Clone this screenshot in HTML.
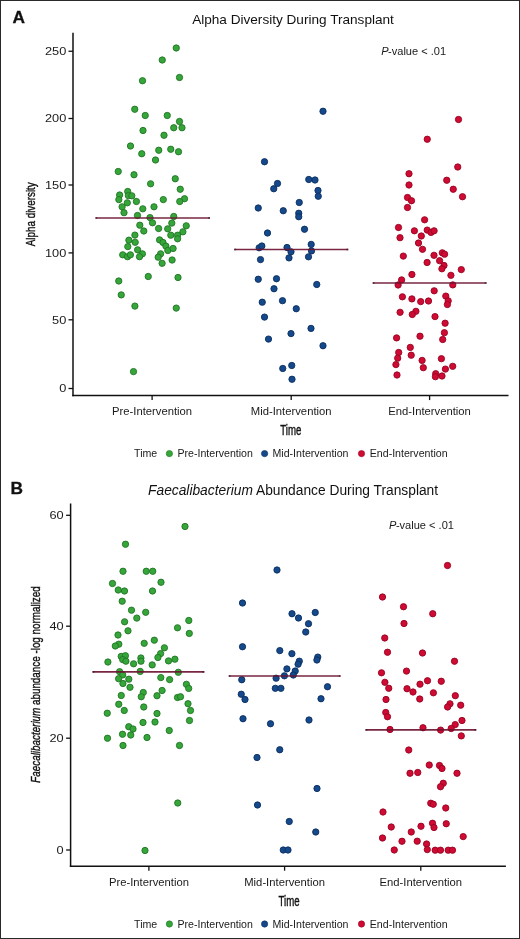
<!DOCTYPE html>
<html><head><meta charset="utf-8"><style>
html,body{margin:0;padding:0;background:#fff;}
body{width:520px;height:939px;overflow:hidden;font-family:"Liberation Sans",sans-serif;}
svg{display:block;will-change:transform;}
</style></head><body>
<svg width="520" height="939" viewBox="0 0 520 939" font-family="'Liberation Sans', sans-serif">
<rect x="0" y="0" width="520" height="939" fill="#fff"/>
<line x1="73" y1="32.8" x2="73" y2="396.35" stroke="#111" stroke-width="1.5"/>
<line x1="72.25" y1="395.6" x2="508.5" y2="395.6" stroke="#111" stroke-width="1.5"/>
<line x1="68.5" y1="51.25" x2="73" y2="51.25" stroke="#111" stroke-width="1.3"/>
<text transform="translate(66.3,55.15) scale(1.12,1)" text-anchor="end" font-size="11.4" fill="#1a1a1a">250</text>
<line x1="68.5" y1="118.5" x2="73" y2="118.5" stroke="#111" stroke-width="1.3"/>
<text transform="translate(66.3,122.4) scale(1.12,1)" text-anchor="end" font-size="11.4" fill="#1a1a1a">200</text>
<line x1="68.5" y1="185.0" x2="73" y2="185.0" stroke="#111" stroke-width="1.3"/>
<text transform="translate(66.3,188.9) scale(1.12,1)" text-anchor="end" font-size="11.4" fill="#1a1a1a">150</text>
<line x1="68.5" y1="252.9" x2="73" y2="252.9" stroke="#111" stroke-width="1.3"/>
<text transform="translate(66.3,256.8) scale(1.12,1)" text-anchor="end" font-size="11.4" fill="#1a1a1a">100</text>
<line x1="68.5" y1="319.8" x2="73" y2="319.8" stroke="#111" stroke-width="1.3"/>
<text transform="translate(66.3,323.7) scale(1.12,1)" text-anchor="end" font-size="11.4" fill="#1a1a1a">50</text>
<line x1="68.5" y1="388.5" x2="73" y2="388.5" stroke="#111" stroke-width="1.3"/>
<text transform="translate(66.3,392.4) scale(1.12,1)" text-anchor="end" font-size="11.4" fill="#1a1a1a">0</text>
<line x1="152.1" y1="395.6" x2="152.1" y2="400.1" stroke="#111" stroke-width="1.3"/>
<text x="152.1" y="414.6" text-anchor="middle" font-size="11.25" fill="#1a1a1a">Pre-Intervention</text>
<line x1="291.2" y1="395.6" x2="291.2" y2="400.1" stroke="#111" stroke-width="1.3"/>
<text x="291.2" y="414.6" text-anchor="middle" font-size="11.25" fill="#1a1a1a">Mid-Intervention</text>
<line x1="429.6" y1="395.6" x2="429.6" y2="400.1" stroke="#111" stroke-width="1.3"/>
<text x="429.6" y="414.6" text-anchor="middle" font-size="11.25" fill="#1a1a1a">End-Intervention</text>
<text transform="translate(290.75,435.3) scale(0.70,1)" text-anchor="middle" font-size="13.8" fill="#111" stroke="#111" stroke-width="0.4">Time</text>
<text transform="translate(35.3,214.25) rotate(-90) scale(0.735,1)" text-anchor="middle" font-size="13.4" fill="#111" stroke="#111" stroke-width="0.4">Alpha diversity</text>
<text x="293" y="24" text-anchor="middle" font-size="13.6" fill="#111">Alpha Diversity During Transplant</text>
<text x="12.5" y="23.4" font-size="17.3" font-weight="bold" fill="#111" stroke="#111" stroke-width="0.3">A</text>
<g fill="#37a63a" stroke="#1f7524" stroke-width="0.9"><circle cx="176.25" cy="48.00" r="3.15"/><circle cx="162.25" cy="60.00" r="3.15"/><circle cx="179.50" cy="77.50" r="3.15"/><circle cx="142.50" cy="80.75" r="3.15"/><circle cx="134.75" cy="109.25" r="3.15"/><circle cx="145.25" cy="115.50" r="3.15"/><circle cx="167.25" cy="115.50" r="3.15"/><circle cx="179.50" cy="121.50" r="3.15"/><circle cx="173.75" cy="127.75" r="3.15"/><circle cx="182.00" cy="127.75" r="3.15"/><circle cx="143.00" cy="130.50" r="3.15"/><circle cx="164.00" cy="135.25" r="3.15"/><circle cx="130.50" cy="146.00" r="3.15"/><circle cx="158.75" cy="150.25" r="3.15"/><circle cx="170.75" cy="149.25" r="3.15"/><circle cx="178.50" cy="151.75" r="3.15"/><circle cx="141.75" cy="153.75" r="3.15"/><circle cx="155.50" cy="160.00" r="3.15"/><circle cx="118.25" cy="171.50" r="3.15"/><circle cx="134.00" cy="174.75" r="3.15"/><circle cx="175.25" cy="178.75" r="3.15"/><circle cx="150.60" cy="183.80" r="3.15"/><circle cx="180.25" cy="189.25" r="3.15"/><circle cx="119.65" cy="195.00" r="3.15"/><circle cx="118.85" cy="199.60" r="3.15"/><circle cx="127.70" cy="191.50" r="3.15"/><circle cx="128.40" cy="195.60" r="3.15"/><circle cx="131.80" cy="195.80" r="3.15"/><circle cx="127.30" cy="202.80" r="3.15"/><circle cx="136.40" cy="201.50" r="3.15"/><circle cx="122.10" cy="206.80" r="3.15"/><circle cx="124.00" cy="212.70" r="3.15"/><circle cx="142.80" cy="208.80" r="3.15"/><circle cx="154.00" cy="206.80" r="3.15"/><circle cx="163.30" cy="199.60" r="3.15"/><circle cx="184.50" cy="198.75" r="3.15"/><circle cx="179.75" cy="201.50" r="3.15"/><circle cx="173.75" cy="216.50" r="3.15"/><circle cx="137.50" cy="215.50" r="3.15"/><circle cx="150.00" cy="217.60" r="3.15"/><circle cx="152.50" cy="222.80" r="3.15"/><circle cx="139.80" cy="225.20" r="3.15"/><circle cx="158.60" cy="228.50" r="3.15"/><circle cx="143.80" cy="231.00" r="3.15"/><circle cx="134.90" cy="235.10" r="3.15"/><circle cx="128.90" cy="240.20" r="3.15"/><circle cx="135.20" cy="242.30" r="3.15"/><circle cx="127.80" cy="246.60" r="3.15"/><circle cx="137.60" cy="249.80" r="3.15"/><circle cx="142.40" cy="253.80" r="3.15"/><circle cx="139.50" cy="256.70" r="3.15"/><circle cx="122.70" cy="254.80" r="3.15"/><circle cx="127.50" cy="256.70" r="3.15"/><circle cx="130.40" cy="254.80" r="3.15"/><circle cx="171.80" cy="223.10" r="3.15"/><circle cx="167.70" cy="228.80" r="3.15"/><circle cx="186.25" cy="225.80" r="3.15"/><circle cx="182.90" cy="231.80" r="3.15"/><circle cx="170.80" cy="235.20" r="3.15"/><circle cx="177.60" cy="235.20" r="3.15"/><circle cx="177.60" cy="238.80" r="3.15"/><circle cx="159.60" cy="239.90" r="3.15"/><circle cx="163.00" cy="242.50" r="3.15"/><circle cx="165.90" cy="246.10" r="3.15"/><circle cx="167.80" cy="250.50" r="3.15"/><circle cx="173.10" cy="248.50" r="3.15"/><circle cx="160.60" cy="253.80" r="3.15"/><circle cx="158.20" cy="257.20" r="3.15"/><circle cx="172.10" cy="260.00" r="3.15"/><circle cx="162.10" cy="263.30" r="3.15"/><circle cx="148.25" cy="276.50" r="3.15"/><circle cx="178.00" cy="277.50" r="3.15"/><circle cx="118.75" cy="281.00" r="3.15"/><circle cx="121.25" cy="294.90" r="3.15"/><circle cx="134.90" cy="306.10" r="3.15"/><circle cx="176.25" cy="308.10" r="3.15"/><circle cx="133.50" cy="371.60" r="3.15"/></g>
<g fill="#16498a" stroke="#0a2f62" stroke-width="0.9"><circle cx="323.00" cy="111.25" r="3.15"/><circle cx="264.50" cy="161.75" r="3.15"/><circle cx="277.50" cy="183.50" r="3.15"/><circle cx="273.75" cy="188.75" r="3.15"/><circle cx="308.75" cy="179.50" r="3.15"/><circle cx="315.00" cy="180.00" r="3.15"/><circle cx="318.00" cy="190.50" r="3.15"/><circle cx="318.25" cy="196.25" r="3.15"/><circle cx="299.25" cy="202.50" r="3.15"/><circle cx="258.25" cy="208.00" r="3.15"/><circle cx="283.25" cy="210.75" r="3.15"/><circle cx="298.75" cy="213.25" r="3.15"/><circle cx="298.75" cy="216.75" r="3.15"/><circle cx="304.50" cy="229.25" r="3.15"/><circle cx="267.50" cy="233.00" r="3.15"/><circle cx="259.15" cy="247.80" r="3.15"/><circle cx="261.85" cy="246.00" r="3.15"/><circle cx="260.50" cy="259.60" r="3.15"/><circle cx="287.00" cy="247.50" r="3.15"/><circle cx="291.00" cy="251.80" r="3.15"/><circle cx="289.00" cy="257.90" r="3.15"/><circle cx="311.20" cy="244.40" r="3.15"/><circle cx="311.50" cy="250.90" r="3.15"/><circle cx="308.50" cy="256.80" r="3.15"/><circle cx="258.25" cy="279.25" r="3.15"/><circle cx="276.50" cy="278.75" r="3.15"/><circle cx="274.00" cy="288.75" r="3.15"/><circle cx="316.75" cy="284.50" r="3.15"/><circle cx="262.25" cy="302.20" r="3.15"/><circle cx="282.50" cy="300.70" r="3.15"/><circle cx="296.25" cy="308.75" r="3.15"/><circle cx="264.50" cy="317.10" r="3.15"/><circle cx="311.00" cy="328.40" r="3.15"/><circle cx="291.00" cy="333.60" r="3.15"/><circle cx="268.50" cy="339.10" r="3.15"/><circle cx="323.00" cy="345.75" r="3.15"/><circle cx="282.75" cy="368.50" r="3.15"/><circle cx="291.75" cy="365.50" r="3.15"/><circle cx="292.00" cy="379.25" r="3.15"/></g>
<g fill="#cf0a33" stroke="#960422" stroke-width="0.9"><circle cx="458.50" cy="119.50" r="3.15"/><circle cx="427.25" cy="139.25" r="3.15"/><circle cx="457.75" cy="167.00" r="3.15"/><circle cx="409.00" cy="173.75" r="3.15"/><circle cx="446.75" cy="180.25" r="3.15"/><circle cx="409.00" cy="185.00" r="3.15"/><circle cx="453.25" cy="189.25" r="3.15"/><circle cx="462.50" cy="196.75" r="3.15"/><circle cx="407.50" cy="197.50" r="3.15"/><circle cx="411.50" cy="200.75" r="3.15"/><circle cx="407.50" cy="207.50" r="3.15"/><circle cx="424.60" cy="219.80" r="3.15"/><circle cx="398.50" cy="227.50" r="3.15"/><circle cx="414.40" cy="230.80" r="3.15"/><circle cx="427.20" cy="230.10" r="3.15"/><circle cx="431.00" cy="232.40" r="3.15"/><circle cx="434.10" cy="230.80" r="3.15"/><circle cx="421.30" cy="236.00" r="3.15"/><circle cx="400.00" cy="237.70" r="3.15"/><circle cx="418.50" cy="243.00" r="3.15"/><circle cx="422.50" cy="249.30" r="3.15"/><circle cx="403.30" cy="256.10" r="3.15"/><circle cx="434.00" cy="255.30" r="3.15"/><circle cx="442.30" cy="252.80" r="3.15"/><circle cx="444.60" cy="254.20" r="3.15"/><circle cx="439.60" cy="260.70" r="3.15"/><circle cx="427.10" cy="262.50" r="3.15"/><circle cx="444.00" cy="265.50" r="3.15"/><circle cx="441.90" cy="268.80" r="3.15"/><circle cx="461.30" cy="269.60" r="3.15"/><circle cx="411.90" cy="274.50" r="3.15"/><circle cx="450.90" cy="275.30" r="3.15"/><circle cx="401.60" cy="279.90" r="3.15"/><circle cx="398.10" cy="285.00" r="3.15"/><circle cx="452.80" cy="284.90" r="3.15"/><circle cx="434.20" cy="290.80" r="3.15"/><circle cx="402.40" cy="296.80" r="3.15"/><circle cx="411.90" cy="298.90" r="3.15"/><circle cx="420.70" cy="301.60" r="3.15"/><circle cx="428.50" cy="301.00" r="3.15"/><circle cx="445.80" cy="296.10" r="3.15"/><circle cx="448.20" cy="300.80" r="3.15"/><circle cx="447.40" cy="304.50" r="3.15"/><circle cx="400.10" cy="312.30" r="3.15"/><circle cx="415.90" cy="311.30" r="3.15"/><circle cx="412.30" cy="314.50" r="3.15"/><circle cx="435.00" cy="316.60" r="3.15"/><circle cx="445.10" cy="323.20" r="3.15"/><circle cx="444.40" cy="332.70" r="3.15"/><circle cx="442.70" cy="339.50" r="3.15"/><circle cx="396.60" cy="337.90" r="3.15"/><circle cx="420.00" cy="336.20" r="3.15"/><circle cx="410.30" cy="347.40" r="3.15"/><circle cx="398.70" cy="352.50" r="3.15"/><circle cx="411.20" cy="355.20" r="3.15"/><circle cx="397.70" cy="358.20" r="3.15"/><circle cx="395.90" cy="364.60" r="3.15"/><circle cx="422.10" cy="360.40" r="3.15"/><circle cx="441.40" cy="358.70" r="3.15"/><circle cx="423.30" cy="367.70" r="3.15"/><circle cx="452.70" cy="366.30" r="3.15"/><circle cx="445.40" cy="369.10" r="3.15"/><circle cx="397.00" cy="375.00" r="3.15"/><circle cx="435.70" cy="373.70" r="3.15"/><circle cx="435.40" cy="376.70" r="3.15"/><circle cx="442.00" cy="376.00" r="3.15"/></g>
<line x1="95.5" y1="218.0" x2="210" y2="218.0" stroke="#6e1430" stroke-opacity="0.92" stroke-width="1.6"/>
<rect x="95.5" y="217.1" width="1.8" height="1.8" fill="#3a1028" fill-opacity="0.6"/>
<rect x="208.2" y="217.1" width="1.8" height="1.8" fill="#3a1028" fill-opacity="0.6"/>
<line x1="234.25" y1="249.5" x2="348.25" y2="249.5" stroke="#6e1430" stroke-opacity="0.92" stroke-width="1.6"/>
<rect x="234.25" y="248.6" width="1.8" height="1.8" fill="#3a1028" fill-opacity="0.6"/>
<rect x="346.45" y="248.6" width="1.8" height="1.8" fill="#3a1028" fill-opacity="0.6"/>
<line x1="372.7" y1="283.0" x2="486.5" y2="283.0" stroke="#6e1430" stroke-opacity="0.92" stroke-width="1.6"/>
<rect x="372.7" y="282.1" width="1.8" height="1.8" fill="#3a1028" fill-opacity="0.6"/>
<rect x="484.7" y="282.1" width="1.8" height="1.8" fill="#3a1028" fill-opacity="0.6"/>
<text x="134.1" y="457.4" font-size="10.6" fill="#1a1a1a">Time</text>
<circle cx="169.4" cy="453.59999999999997" r="3.15" fill="#37a63a" stroke="#1f7524" stroke-width="0.6"/>
<text x="177.5" y="457.4" font-size="10.6" fill="#1a1a1a">Pre-Intervention</text>
<circle cx="264.6" cy="453.59999999999997" r="3.15" fill="#16498a" stroke="#0a2f62" stroke-width="0.6"/>
<text x="272.5" y="457.4" font-size="10.6" fill="#1a1a1a">Mid-Intervention</text>
<circle cx="361.5" cy="453.59999999999997" r="3.15" fill="#cf0a33" stroke="#960422" stroke-width="0.6"/>
<text x="369.8" y="457.4" font-size="10.6" fill="#1a1a1a">End-Intervention</text>
<text x="381.3" y="55" font-size="11.05" fill="#1a1a1a"><tspan font-style="italic">P</tspan><tspan dx="-0.6">-value</tspan> &lt; .01</text>
<line x1="70.6" y1="503.6" x2="70.6" y2="866.95" stroke="#111" stroke-width="1.5"/>
<line x1="69.85" y1="866.2" x2="505.9" y2="866.2" stroke="#111" stroke-width="1.5"/>
<line x1="66.1" y1="515.3" x2="70.6" y2="515.3" stroke="#111" stroke-width="1.3"/>
<text transform="translate(63.6,519.1999999999999) scale(1.12,1)" text-anchor="end" font-size="11.4" fill="#1a1a1a">60</text>
<line x1="66.1" y1="626.2" x2="70.6" y2="626.2" stroke="#111" stroke-width="1.3"/>
<text transform="translate(63.6,630.1) scale(1.12,1)" text-anchor="end" font-size="11.4" fill="#1a1a1a">40</text>
<line x1="66.1" y1="738.2" x2="70.6" y2="738.2" stroke="#111" stroke-width="1.3"/>
<text transform="translate(63.6,742.1) scale(1.12,1)" text-anchor="end" font-size="11.4" fill="#1a1a1a">20</text>
<line x1="66.1" y1="850.0" x2="70.6" y2="850.0" stroke="#111" stroke-width="1.3"/>
<text transform="translate(63.6,853.9) scale(1.12,1)" text-anchor="end" font-size="11.4" fill="#1a1a1a">0</text>
<line x1="148.9" y1="866.2" x2="148.9" y2="870.7" stroke="#111" stroke-width="1.3"/>
<text x="148.9" y="885.9" text-anchor="middle" font-size="11.25" fill="#1a1a1a">Pre-Intervention</text>
<line x1="284.6" y1="866.2" x2="284.6" y2="870.7" stroke="#111" stroke-width="1.3"/>
<text x="284.6" y="885.9" text-anchor="middle" font-size="11.25" fill="#1a1a1a">Mid-Intervention</text>
<line x1="420.8" y1="866.2" x2="420.8" y2="870.7" stroke="#111" stroke-width="1.3"/>
<text x="420.8" y="885.9" text-anchor="middle" font-size="11.25" fill="#1a1a1a">End-Intervention</text>
<text transform="translate(289,906.4) scale(0.70,1)" text-anchor="middle" font-size="13.8" fill="#111" stroke="#111" stroke-width="0.4">Time</text>
<text transform="translate(40.2,684.5) rotate(-90) scale(0.735,1)" text-anchor="middle" font-size="13.4" fill="#111" stroke="#111" stroke-width="0.4"><tspan font-style="italic">Faecalibacterium</tspan> abundance -log normalized</text>
<text x="293.1" y="494.6" text-anchor="middle" font-size="13.78" fill="#111"><tspan font-style="italic">Faecalibacterium</tspan> Abundance During Transplant</text>
<text x="10.5" y="494.3" font-size="17.3" font-weight="bold" fill="#111" stroke="#111" stroke-width="0.3">B</text>
<g fill="#37a63a" stroke="#1f7524" stroke-width="0.9"><circle cx="185.00" cy="526.50" r="3.15"/><circle cx="125.50" cy="544.25" r="3.15"/><circle cx="123.00" cy="571.25" r="3.15"/><circle cx="146.25" cy="571.25" r="3.15"/><circle cx="152.75" cy="571.25" r="3.15"/><circle cx="112.50" cy="583.50" r="3.15"/><circle cx="161.00" cy="582.25" r="3.15"/><circle cx="118.25" cy="590.00" r="3.15"/><circle cx="124.50" cy="591.00" r="3.15"/><circle cx="152.50" cy="591.00" r="3.15"/><circle cx="122.20" cy="601.20" r="3.15"/><circle cx="131.50" cy="610.20" r="3.15"/><circle cx="145.70" cy="612.30" r="3.15"/><circle cx="136.80" cy="618.10" r="3.15"/><circle cx="124.60" cy="621.80" r="3.15"/><circle cx="128.00" cy="630.80" r="3.15"/><circle cx="118.00" cy="635.00" r="3.15"/><circle cx="118.80" cy="644.20" r="3.15"/><circle cx="115.30" cy="646.00" r="3.15"/><circle cx="144.20" cy="643.30" r="3.15"/><circle cx="154.30" cy="640.20" r="3.15"/><circle cx="188.80" cy="620.50" r="3.15"/><circle cx="177.50" cy="627.80" r="3.15"/><circle cx="189.30" cy="633.40" r="3.15"/><circle cx="164.40" cy="647.80" r="3.15"/><circle cx="121.20" cy="656.40" r="3.15"/><circle cx="125.40" cy="655.70" r="3.15"/><circle cx="122.70" cy="659.60" r="3.15"/><circle cx="125.90" cy="661.20" r="3.15"/><circle cx="107.90" cy="662.00" r="3.15"/><circle cx="133.60" cy="663.80" r="3.15"/><circle cx="140.90" cy="658.00" r="3.15"/><circle cx="141.00" cy="661.20" r="3.15"/><circle cx="152.20" cy="664.90" r="3.15"/><circle cx="119.60" cy="671.70" r="3.15"/><circle cx="122.70" cy="674.90" r="3.15"/><circle cx="140.20" cy="671.40" r="3.15"/><circle cx="118.60" cy="678.70" r="3.15"/><circle cx="128.80" cy="679.20" r="3.15"/><circle cx="122.90" cy="683.50" r="3.15"/><circle cx="130.00" cy="687.30" r="3.15"/><circle cx="160.60" cy="653.60" r="3.15"/><circle cx="157.90" cy="657.50" r="3.15"/><circle cx="168.50" cy="660.90" r="3.15"/><circle cx="174.90" cy="659.20" r="3.15"/><circle cx="178.30" cy="672.30" r="3.15"/><circle cx="160.80" cy="677.60" r="3.15"/><circle cx="169.60" cy="679.60" r="3.15"/><circle cx="186.40" cy="684.30" r="3.15"/><circle cx="188.70" cy="688.40" r="3.15"/><circle cx="162.10" cy="690.50" r="3.15"/><circle cx="143.25" cy="692.50" r="3.15"/><circle cx="141.25" cy="696.75" r="3.15"/><circle cx="121.25" cy="695.50" r="3.15"/><circle cx="157.00" cy="695.75" r="3.15"/><circle cx="177.50" cy="697.50" r="3.15"/><circle cx="180.50" cy="696.75" r="3.15"/><circle cx="118.75" cy="704.25" r="3.15"/><circle cx="188.00" cy="703.75" r="3.15"/><circle cx="124.25" cy="710.50" r="3.15"/><circle cx="143.75" cy="707.00" r="3.15"/><circle cx="107.25" cy="713.25" r="3.15"/><circle cx="157.00" cy="713.50" r="3.15"/><circle cx="190.50" cy="710.50" r="3.15"/><circle cx="143.00" cy="722.50" r="3.15"/><circle cx="155.00" cy="722.00" r="3.15"/><circle cx="189.50" cy="720.50" r="3.15"/><circle cx="128.75" cy="726.75" r="3.15"/><circle cx="133.00" cy="729.00" r="3.15"/><circle cx="122.50" cy="734.25" r="3.15"/><circle cx="130.75" cy="735.00" r="3.15"/><circle cx="169.25" cy="730.50" r="3.15"/><circle cx="107.50" cy="738.25" r="3.15"/><circle cx="147.00" cy="737.50" r="3.15"/><circle cx="123.00" cy="745.50" r="3.15"/><circle cx="179.50" cy="745.50" r="3.15"/><circle cx="177.75" cy="803.00" r="3.15"/><circle cx="145.00" cy="850.50" r="3.15"/></g>
<g fill="#16498a" stroke="#0a2f62" stroke-width="0.9"><circle cx="277.00" cy="570.00" r="3.15"/><circle cx="242.50" cy="603.00" r="3.15"/><circle cx="292.00" cy="613.75" r="3.15"/><circle cx="298.50" cy="618.00" r="3.15"/><circle cx="315.25" cy="612.50" r="3.15"/><circle cx="308.50" cy="623.75" r="3.15"/><circle cx="305.75" cy="632.00" r="3.15"/><circle cx="242.50" cy="646.75" r="3.15"/><circle cx="279.80" cy="650.60" r="3.15"/><circle cx="291.90" cy="653.70" r="3.15"/><circle cx="317.80" cy="657.10" r="3.15"/><circle cx="316.90" cy="660.00" r="3.15"/><circle cx="299.30" cy="661.20" r="3.15"/><circle cx="298.10" cy="664.20" r="3.15"/><circle cx="286.90" cy="668.90" r="3.15"/><circle cx="295.20" cy="671.00" r="3.15"/><circle cx="293.30" cy="675.00" r="3.15"/><circle cx="284.40" cy="675.80" r="3.15"/><circle cx="276.10" cy="678.20" r="3.15"/><circle cx="241.75" cy="679.75" r="3.15"/><circle cx="275.30" cy="688.30" r="3.15"/><circle cx="280.90" cy="688.30" r="3.15"/><circle cx="327.50" cy="686.75" r="3.15"/><circle cx="241.25" cy="694.25" r="3.15"/><circle cx="245.00" cy="699.50" r="3.15"/><circle cx="321.00" cy="698.75" r="3.15"/><circle cx="243.00" cy="718.75" r="3.15"/><circle cx="270.50" cy="723.75" r="3.15"/><circle cx="309.00" cy="720.00" r="3.15"/><circle cx="279.75" cy="749.75" r="3.15"/><circle cx="257.00" cy="757.50" r="3.15"/><circle cx="317.00" cy="788.50" r="3.15"/><circle cx="257.50" cy="805.00" r="3.15"/><circle cx="289.25" cy="821.50" r="3.15"/><circle cx="315.75" cy="832.00" r="3.15"/><circle cx="283.25" cy="850.00" r="3.15"/><circle cx="288.00" cy="850.00" r="3.15"/></g>
<g fill="#cf0a33" stroke="#960422" stroke-width="0.9"><circle cx="447.50" cy="565.50" r="3.15"/><circle cx="382.50" cy="597.00" r="3.15"/><circle cx="403.50" cy="606.75" r="3.15"/><circle cx="432.75" cy="613.75" r="3.15"/><circle cx="404.00" cy="623.50" r="3.15"/><circle cx="384.75" cy="638.00" r="3.15"/><circle cx="387.50" cy="652.25" r="3.15"/><circle cx="422.50" cy="653.00" r="3.15"/><circle cx="454.50" cy="661.25" r="3.15"/><circle cx="381.50" cy="672.80" r="3.15"/><circle cx="406.50" cy="671.10" r="3.15"/><circle cx="384.90" cy="682.30" r="3.15"/><circle cx="420.00" cy="684.20" r="3.15"/><circle cx="427.50" cy="680.75" r="3.15"/><circle cx="441.25" cy="681.25" r="3.15"/><circle cx="388.75" cy="688.25" r="3.15"/><circle cx="407.00" cy="688.75" r="3.15"/><circle cx="413.00" cy="692.00" r="3.15"/><circle cx="433.40" cy="692.80" r="3.15"/><circle cx="386.00" cy="699.50" r="3.15"/><circle cx="419.75" cy="699.00" r="3.15"/><circle cx="455.30" cy="695.70" r="3.15"/><circle cx="450.00" cy="703.80" r="3.15"/><circle cx="447.60" cy="707.00" r="3.15"/><circle cx="460.70" cy="705.20" r="3.15"/><circle cx="385.75" cy="712.50" r="3.15"/><circle cx="387.50" cy="716.75" r="3.15"/><circle cx="462.00" cy="720.50" r="3.15"/><circle cx="455.20" cy="724.60" r="3.15"/><circle cx="451.20" cy="728.50" r="3.15"/><circle cx="390.00" cy="729.50" r="3.15"/><circle cx="423.00" cy="727.75" r="3.15"/><circle cx="440.60" cy="730.10" r="3.15"/><circle cx="461.30" cy="735.90" r="3.15"/><circle cx="408.75" cy="750.00" r="3.15"/><circle cx="429.25" cy="765.00" r="3.15"/><circle cx="439.50" cy="765.50" r="3.15"/><circle cx="442.00" cy="768.50" r="3.15"/><circle cx="410.00" cy="773.25" r="3.15"/><circle cx="417.75" cy="772.50" r="3.15"/><circle cx="457.00" cy="773.25" r="3.15"/><circle cx="443.25" cy="783.25" r="3.15"/><circle cx="440.50" cy="786.75" r="3.15"/><circle cx="430.75" cy="803.25" r="3.15"/><circle cx="433.25" cy="804.25" r="3.15"/><circle cx="445.75" cy="808.00" r="3.15"/><circle cx="383.00" cy="812.00" r="3.15"/><circle cx="391.25" cy="827.00" r="3.15"/><circle cx="421.00" cy="826.25" r="3.15"/><circle cx="432.50" cy="823.25" r="3.15"/><circle cx="434.00" cy="827.50" r="3.15"/><circle cx="446.25" cy="823.75" r="3.15"/><circle cx="411.25" cy="832.00" r="3.15"/><circle cx="463.20" cy="836.60" r="3.15"/><circle cx="382.50" cy="838.00" r="3.15"/><circle cx="402.00" cy="841.25" r="3.15"/><circle cx="417.20" cy="841.20" r="3.15"/><circle cx="426.60" cy="844.00" r="3.15"/><circle cx="427.30" cy="849.60" r="3.15"/><circle cx="394.25" cy="850.00" r="3.15"/><circle cx="435.20" cy="850.20" r="3.15"/><circle cx="440.50" cy="850.20" r="3.15"/><circle cx="448.20" cy="850.20" r="3.15"/><circle cx="452.50" cy="850.20" r="3.15"/></g>
<line x1="92.5" y1="671.9" x2="204.3" y2="671.9" stroke="#6e1430" stroke-opacity="0.92" stroke-width="1.6"/>
<rect x="92.5" y="671.0" width="1.8" height="1.8" fill="#3a1028" fill-opacity="0.6"/>
<rect x="202.5" y="671.0" width="1.8" height="1.8" fill="#3a1028" fill-opacity="0.6"/>
<line x1="228.75" y1="676.0" x2="340.5" y2="676.0" stroke="#6e1430" stroke-opacity="0.92" stroke-width="1.6"/>
<rect x="228.75" y="675.1" width="1.8" height="1.8" fill="#3a1028" fill-opacity="0.6"/>
<rect x="338.7" y="675.1" width="1.8" height="1.8" fill="#3a1028" fill-opacity="0.6"/>
<line x1="365.5" y1="729.9" x2="476.25" y2="729.9" stroke="#6e1430" stroke-opacity="0.92" stroke-width="1.6"/>
<rect x="365.5" y="729.0" width="1.8" height="1.8" fill="#3a1028" fill-opacity="0.6"/>
<rect x="474.45" y="729.0" width="1.8" height="1.8" fill="#3a1028" fill-opacity="0.6"/>
<text x="134.1" y="927.8" font-size="10.6" fill="#1a1a1a">Time</text>
<circle cx="169.4" cy="924.0" r="3.15" fill="#37a63a" stroke="#1f7524" stroke-width="0.6"/>
<text x="177.5" y="927.8" font-size="10.6" fill="#1a1a1a">Pre-Intervention</text>
<circle cx="264.6" cy="924.0" r="3.15" fill="#16498a" stroke="#0a2f62" stroke-width="0.6"/>
<text x="272.5" y="927.8" font-size="10.6" fill="#1a1a1a">Mid-Intervention</text>
<circle cx="361.5" cy="924.0" r="3.15" fill="#cf0a33" stroke="#960422" stroke-width="0.6"/>
<text x="369.8" y="927.8" font-size="10.6" fill="#1a1a1a">End-Intervention</text>
<text x="389.1" y="528.7" font-size="11.05" fill="#1a1a1a"><tspan font-style="italic">P</tspan><tspan dx="-0.6">-value</tspan> &lt; .01</text>
<rect x="0.5" y="0.5" width="519" height="938" fill="none" stroke="#2a2a2a" stroke-width="1"/>
</svg>
</body></html>
